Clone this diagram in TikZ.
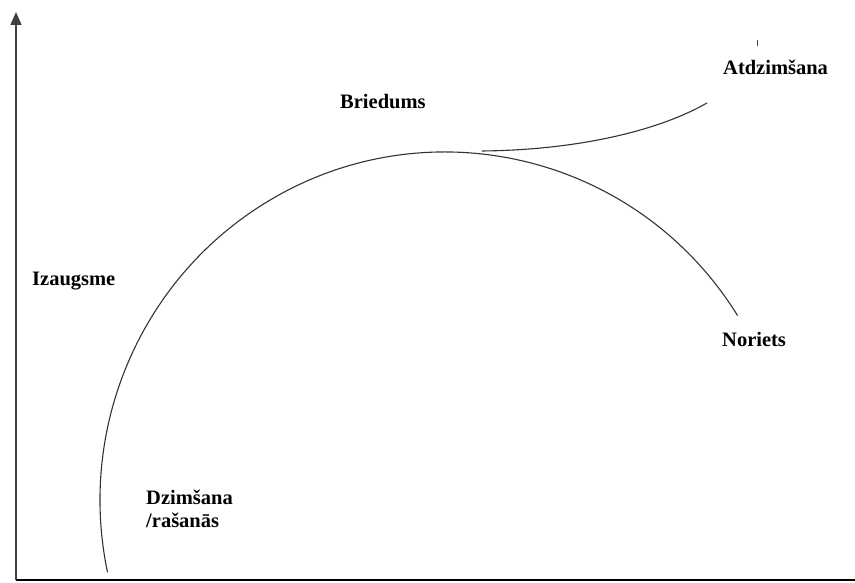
\documentclass[tikz,border=0pt]{standalone}
\usepackage{fontspec}
\setmainfont{Liberation Serif}
\usetikzlibrary{arrows.meta}
\begin{document}
\begin{tikzpicture}[x=1pt,y=1pt,
  lbl/.style={anchor=base west,inner sep=0pt,font=\fontsize{20.5}{24}\selectfont\bfseries},
  axis/.style={line width=1.6pt,draw=black!75},
  curve/.style={line width=1.1pt,draw=black!80}]
\useasboundingbox (0,0) rectangle (855,583);
% axes
\coordinate (o) at (16,3);
\coordinate (ytop) at (16,571);
\coordinate (xend) at (855,3);
\draw[axis,-{Triangle[length=13pt,width=11pt]}] (o) -- (ytop);
\draw[axis,draw=black] (o) -- (xend);
% main arc
\draw[curve] (445,83) ++(32:345 and 348) arc[start angle=32,end angle=192,x radius=345,y radius=348];
% rebirth branch
\coordinate (b1) at (482,432);
\coordinate (b2) at (707,480);
\draw[curve] (b1) .. controls (580,433) and (660,453) .. (b2);
% small tick
\coordinate (t1) at (757,537);
\coordinate (t2) at (757,543);
\draw[line width=1pt,draw=black!70] (t1) -- (t2);
% labels
\node[lbl] (briedums) at (340,474) {Briedums};
\node[lbl] (atdz) at (723,508) {Atdzimšana};
\node[lbl] (izaug) at (32,297) {Izaugsme};
\node[lbl] (noriets) at (722,236) {Noriets};
\node[lbl] (dzim) at (146,78) {Dzimšana};
\node[lbl] (rasan) at (146,55) {/rašanās};
\end{tikzpicture}
\end{document}
